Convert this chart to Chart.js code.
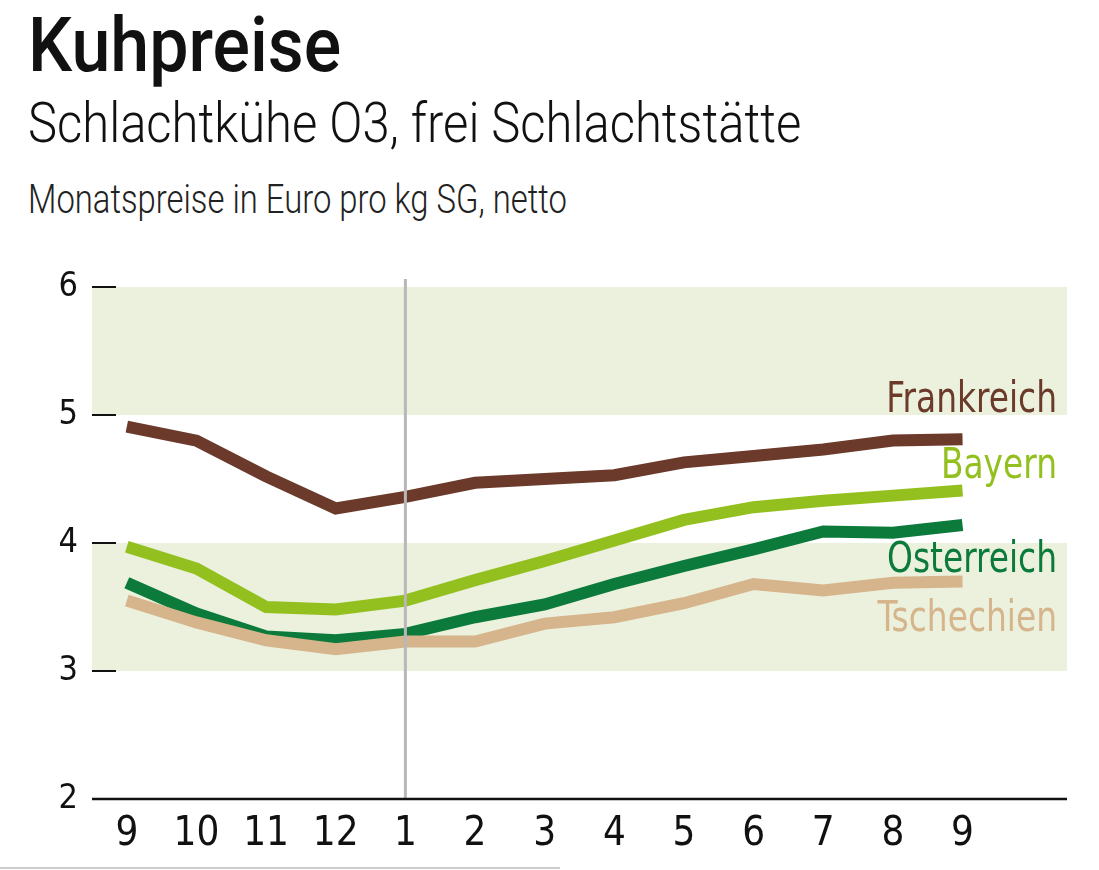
<!DOCTYPE html>
<html>
<head>
<meta charset="utf-8">
<script src="https://cdn.jsdelivr.net/npm/chart.js@4.4.1/dist/chart.umd.min.js"></script>
<style>
  body { margin: 0; background: #fff; width: 1099px; height: 870px; overflow: hidden; position: relative; }
  .t { position: absolute; left: 28px; color: #111; white-space: nowrap; transform-origin: left top; }
  #title { top: 0px; font-family: Roboto, "Open Sans", sans-serif; font-size: 76px; font-weight: 500; transform: scaleX(0.92); }
  #sub { top: 90px; font-family: Roboto, "Open Sans", sans-serif; font-size: 56px; font-weight: 300; transform: scaleX(0.874); }
  #sub2 { top: 176px; font-family: Roboto, "Open Sans", sans-serif; font-size: 40px; font-weight: 300; color: #222; transform: scaleX(0.82); }
  #chartBox { position: absolute; left: 0; top: 0; width: 1099px; height: 870px; }
  #foot { position: absolute; left: 0; top: 867px; width: 560px; height: 2px; background: #ccc; }
</style>
</head>
<body>
<div class="t" id="title">Kuhpreise</div>
<div class="t" id="sub">Schlachtkühe O3, frei Schlachtstätte</div>
<div class="t" id="sub2">Monatspreise in Euro pro kg SG, netto</div>
<div id="chartBox"><canvas id="myChart" width="1099" height="870"></canvas></div>
<div id="foot"></div>
<script>
const months = ["9","10","11","12","1","2","3","4","5","6","7","8","9"];
const frankreich = [4.91, 4.80, 4.52, 4.27, 4.36, 4.47, 4.50, 4.53, 4.63, 4.68, 4.73, 4.80, 4.81];
const bayern     = [3.97, 3.80, 3.50, 3.48, 3.55, 3.71, 3.86, 4.02, 4.18, 4.28, 4.33, 4.37, 4.41];
const oesterreich = [3.69, 3.45, 3.27, 3.24, 3.29, 3.42, 3.52, 3.68, 3.82, 3.95, 4.09, 4.08, 4.14];
const tschechien = [3.55, 3.38, 3.24, 3.17, 3.23, 3.23, 3.37, 3.42, 3.53, 3.68, 3.63, 3.69, 3.70];
const yTicks = [2, 3, 4, 5, 6];
const bands = [[3, 4], [5, 6]];
const markerMonth = 4; // Januar

const FONT = '"DejaVu Sans Condensed", "DejaVu Sans", sans-serif';

const seriesLabels = [
  { text: 'Frankreich', color: '#6b3a2a', y: 5.11 },
  { text: 'Bayern', color: '#93c01f', y: 4.59 },
  { text: 'Österreich', color: '#0b7a3b', y: 3.86 },
  { text: 'Tschechien', color: '#d6b48c', y: 3.40 }
];

const toPoints = arr => arr.map((v, i) => ({ x: i, y: v }));

const decor = {
  id: 'decor',
  beforeDatasetsDraw(chart) {
    const { ctx, chartArea: a, scales: { y } } = chart;
    ctx.save();
    ctx.fillStyle = '#ebf1dc';
    bands.forEach(([lo, hi]) => {
      const top = y.getPixelForValue(hi), bot = y.getPixelForValue(lo);
      ctx.fillRect(a.left, top, a.right - a.left, bot - top);
    });
    ctx.strokeStyle = '#111';
    ctx.lineWidth = 2;
    yTicks.slice(1).forEach(v => {
      const py = y.getPixelForValue(v);
      ctx.beginPath();
      ctx.moveTo(a.left, py);
      ctx.lineTo(a.left + 24, py);
      ctx.stroke();
    });
    ctx.restore();
  },
  afterDatasetsDraw(chart) {
    const { ctx, chartArea: a, scales: { x, y } } = chart;
    ctx.save();
    const px = x.getPixelForValue(markerMonth);
    ctx.strokeStyle = '#b8b8b8';
    ctx.lineWidth = 3;
    ctx.beginPath();
    ctx.moveTo(px, a.top - 8);
    ctx.lineTo(px, a.bottom);
    ctx.stroke();
    ctx.strokeStyle = '#111';
    ctx.lineWidth = 2.5;
    ctx.beginPath();
    ctx.moveTo(a.left, a.bottom);
    ctx.lineTo(a.right, a.bottom);
    ctx.stroke();
    ctx.font = '42px ' + FONT;
    ctx.textAlign = 'right';
    ctx.textBaseline = 'middle';
    seriesLabels.forEach(l => {
      ctx.save();
      ctx.translate(a.right - 10, y.getPixelForValue(l.y));
      ctx.scale(0.87, 1);
      ctx.fillStyle = l.color;
      ctx.fillText(l.text, 0, 0);
      ctx.restore();
    });
    ctx.restore();
  }
};

const ds = (label, data, color) => ({
  label, data: toPoints(data), borderColor: color, borderWidth: 12,
  pointRadius: 0, tension: 0, borderJoinStyle: 'miter', borderCapStyle: 'butt', fill: false
});

new Chart(document.getElementById('myChart'), {
  type: 'line',
  data: {
    datasets: [
      ds('Frankreich', frankreich, '#6b3a2a'),
      ds('Bayern', bayern, '#93c01f'),
      ds('Tschechien', tschechien, '#d6b48c'),
      ds('Österreich', oesterreich, '#0b7a3b')
    ]
  },
  options: {
    responsive: false,
    animation: false,
    layout: { padding: { top: 287, right: 32, bottom: 8, left: 0 } },
    plugins: { legend: { display: false }, tooltip: { enabled: false } },
    scales: {
      x: {
        type: 'linear', min: -0.5, max: 13.5,
        afterBuildTicks: s => { s.ticks = months.map((m, i) => ({ value: i })); },
        afterFit: s => { s.height = 63; },
        grid: { display: false }, border: { display: false },
        ticks: { callback: (v, i) => months[i], color: '#111', font: { family: FONT, size: 40 }, padding: 4, maxRotation: 0, autoSkip: false }
      },
      y: {
        min: 2, max: 6,
        afterBuildTicks: s => { s.ticks = yTicks.map(v => ({ value: v })); },
        afterFit: s => { s.width = 92; },
        grid: { display: false }, border: { display: false },
        ticks: { color: '#111', font: { family: FONT, size: 34 }, padding: 6 }
      }
    }
  },
  plugins: [decor]
});
</script>
</body>
</html>
